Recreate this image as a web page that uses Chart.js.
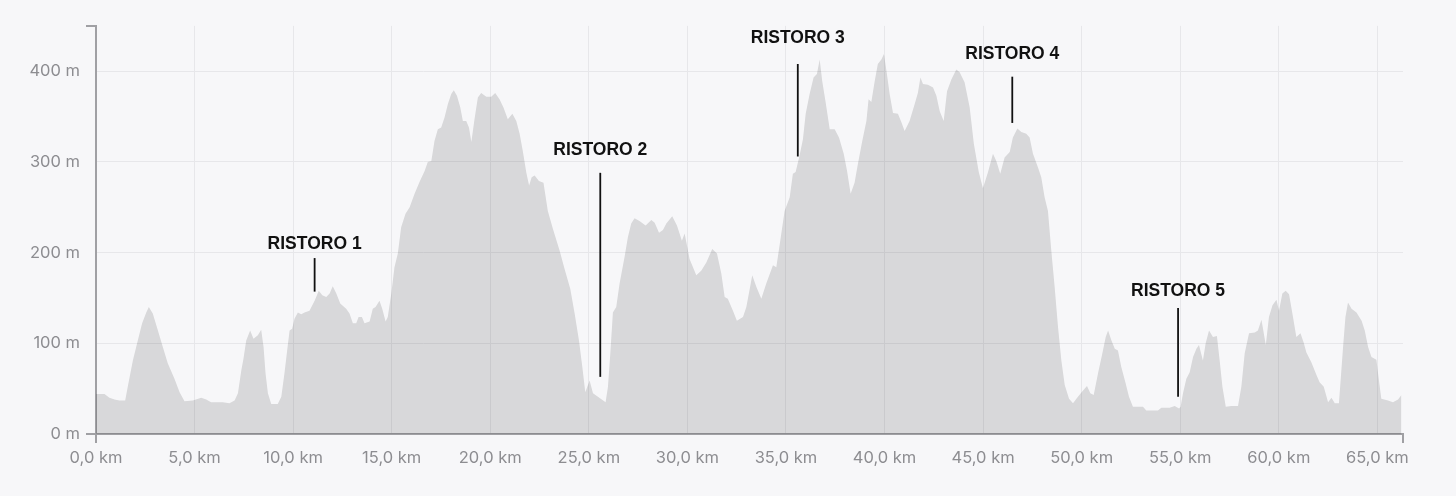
<!DOCTYPE html>
<html>
<head>
<meta charset="utf-8">
<script src="https://cdn.jsdelivr.net/npm/chart.js@4.4.1/dist/chart.umd.min.js"></script>
<style>
  html, body { margin: 0; padding: 0; background: #f7f7f9; }
  #wrap { width: 1456px; height: 496px; position: relative; }
  canvas { display: block; }
</style>
</head>
<body>
<div id="wrap"><canvas id="c" width="1456" height="496"></canvas></div>
<script>
// ---- Data (km, metres) ----
const distanceKm = [
  0.0, 0.43, 0.68, 0.94, 1.19, 1.48, 1.61, 1.87, 2.12, 2.34, 2.55, 2.68, 2.88, 3.14, 3.39, 3.64, 3.98, 4.24, 4.49, 4.91,
  5.34, 5.59, 5.84, 6.43, 6.77, 7.03, 7.2, 7.37, 7.48, 7.62, 7.82, 7.99, 8.21, 8.38, 8.5, 8.6, 8.72, 8.89, 9.22, 9.4,
  9.56, 9.73, 9.82, 9.95, 10.07, 10.24, 10.41, 10.58, 10.83, 11.09, 11.3, 11.48, 11.68, 11.85, 12.01, 12.19, 12.39, 12.69, 12.86, 13.03,
  13.2, 13.32, 13.49, 13.62, 13.88, 14.04, 14.18, 14.38, 14.52, 14.69, 14.8, 14.98, 15.14, 15.31, 15.48, 15.7, 15.91, 16.16, 16.41, 16.67,
  16.83, 17.01, 17.17, 17.34, 17.51, 17.68, 17.85, 18.02, 18.15, 18.31, 18.48, 18.61, 18.78, 18.92, 19.04, 19.2, 19.37, 19.54, 19.8, 20.05,
  20.25, 20.47, 20.67, 20.89, 21.12, 21.32, 21.49, 21.65, 21.83, 21.97, 22.1, 22.25, 22.47, 22.7, 22.92, 23.18, 23.52, 23.77, 24.06, 24.28,
  24.5, 24.67, 24.82, 25.04, 25.21, 25.46, 25.85, 25.97, 26.09, 26.22, 26.39, 26.56, 26.81, 26.98, 27.15, 27.32, 27.57, 27.88, 28.17, 28.34,
  28.56, 28.76, 28.93, 29.23, 29.47, 29.72, 29.86, 30.11, 30.45, 30.7, 30.96, 31.26, 31.5, 31.72, 31.89, 32.05, 32.31, 32.51, 32.82, 32.99,
  33.29, 33.5, 33.75, 34.0, 34.34, 34.51, 34.71, 34.93, 35.19, 35.35, 35.49, 35.69, 35.86, 36.0, 36.2, 36.4, 36.57, 36.71, 36.84, 37.01,
  37.22, 37.47, 37.69, 37.93, 38.1, 38.28, 38.48, 38.65, 38.87, 39.08, 39.19, 39.33, 39.5, 39.66, 39.84, 39.97, 40.12, 40.26, 40.43, 40.68,
  40.85, 41.02, 41.27, 41.53, 41.69, 41.82, 41.95, 42.2, 42.46, 42.63, 42.8, 43.0, 43.17, 43.39, 43.64, 43.81, 44.06, 44.32, 44.53, 44.78,
  44.99, 45.25, 45.5, 45.67, 45.87, 46.09, 46.35, 46.51, 46.74, 46.94, 47.19, 47.36, 47.53, 47.78, 47.95, 48.12, 48.29, 48.46, 48.63, 48.8,
  48.97, 49.14, 49.36, 49.56, 49.81, 50.07, 50.27, 50.44, 50.61, 50.83, 51.05, 51.22, 51.34, 51.51, 51.68, 51.84, 52.01, 52.23, 52.4, 52.6,
  53.11, 53.28, 53.87, 54.04, 54.46, 54.72, 54.94, 55.02, 55.14, 55.31, 55.48, 55.65, 55.82, 55.95, 56.15, 56.29, 56.46, 56.66, 56.86, 57.0,
  57.14, 57.31, 57.6, 57.93, 58.1, 58.27, 58.49, 58.78, 58.94, 59.12, 59.34, 59.5, 59.68, 59.88, 60.01, 60.18, 60.35, 60.52, 60.72, 60.89,
  61.1, 61.26, 61.4, 61.65, 61.91, 62.07, 62.28, 62.5, 62.67, 62.84, 63.05, 63.26, 63.38, 63.51, 63.69, 63.94, 64.2, 64.36, 64.53, 64.7,
  64.95, 65.08, 65.2, 65.54, 65.79, 66.05, 66.22
];
const elevationM = [
  44, 44, 40, 38, 37, 37, 52, 81, 103, 122, 134, 140, 133, 114, 96, 78, 61, 46, 36, 37,
  40, 38, 35, 35, 34, 37, 45, 70, 83, 103, 114, 105, 109, 115, 96, 67, 45, 33, 33, 41,
  67, 98, 114, 116, 127, 134, 132, 134, 136, 147, 158, 153, 151, 155, 163, 155, 144, 138, 133, 122,
  122, 129, 129, 122, 124, 138, 140, 147, 138, 124, 129, 155, 184, 199, 228, 243, 250, 265, 278, 290,
  300, 301, 323, 336, 338, 349, 364, 375, 379, 373, 360, 345, 345, 338, 322, 347, 371, 376, 372, 372,
  376, 369, 360, 347, 353, 345, 331, 312, 288, 274, 283, 285, 279, 277, 246, 226, 202, 182, 160, 133,
  103, 74, 46, 59, 45, 41, 35, 52, 89, 134, 140, 166, 195, 217, 232, 238, 235, 230, 236, 233,
  222, 225, 232, 240, 230, 213, 221, 193, 175, 180, 189, 204, 199, 177, 151, 149, 136, 125, 129, 140,
  175, 162, 149, 166, 186, 184, 213, 246, 261, 287, 289, 307, 325, 353, 375, 393, 397, 413, 389, 366,
  336, 336, 327, 309, 290, 265, 277, 298, 323, 345, 369, 366, 389, 408, 413, 419, 397, 375, 354, 353,
  344, 334, 345, 364, 376, 393, 386, 385, 382, 373, 356, 345, 378, 391, 402, 399, 388, 360, 320, 289,
  271, 289, 309, 301, 287, 305, 311, 327, 337, 333, 331, 327, 309, 294, 283, 261, 246, 202, 162, 118,
  81, 54, 39, 34, 41, 48, 53, 45, 43, 67, 89, 107, 114, 103, 94, 92, 74, 56, 41, 30,
  30, 26, 26, 29, 29, 31, 28, 30, 45, 61, 68, 85, 94, 98, 81, 100, 114, 107, 108, 81,
  52, 30, 31, 31, 52, 89, 111, 112, 114, 126, 98, 129, 142, 148, 136, 155, 158, 154, 129, 107,
  111, 101, 90, 79, 65, 57, 52, 35, 40, 34, 34, 96, 129, 145, 138, 134, 125, 114, 96, 85,
  82, 59, 39, 37, 35, 38, 43
];

// ---- Axes ----
const xTickValues = [0, 5, 10, 15, 20, 25, 30, 35, 40, 45, 50, 55, 60, 65];
const yTickValues = [0, 100, 200, 300, 400];
const xMax = 66.3;
const yMax = 450;

// ---- Aid stations (ristori) ----
const ristoroNames = ['RISTORO 1', 'RISTORO 2', 'RISTORO 3', 'RISTORO 4', 'RISTORO 5'];
const ristoroKm = [11.09, 25.58, 35.6, 46.48, 54.89];
const ristoroLabelM = [204, 308, 431, 414, 152];
const ristoroLineTopM = [194, 288, 408, 394, 139];
const ristoroLineBottomM = [157, 63, 306, 343, 41];

const points = distanceKm.map((d, i) => ({ x: d, y: elevationM[i] }));

const BG = '#f7f7f9';
const AXIS = '#a0a0a4';
const GRID = '#e7e7ea';
const TICK_TXT = '#8d8d91';

const bgPlugin = {
  id: 'bg',
  beforeDraw(chart) {
    const { ctx, width, height } = chart;
    ctx.save();
    ctx.fillStyle = BG;
    ctx.fillRect(0, 0, width, height);
    ctx.restore();
  }
};

const overlayPlugin = {
  id: 'overlay',
  afterDraw(chart) {
    const { ctx } = chart;
    const xs = chart.scales.x, ys = chart.scales.y;
    const x0 = xs.getPixelForValue(0), x1 = xs.getPixelForValue(xMax);
    const y0 = ys.getPixelForValue(0), y1 = ys.getPixelForValue(yMax);
    ctx.save();
    ctx.strokeStyle = AXIS;
    ctx.lineWidth = 2;
    ctx.beginPath();
    ctx.moveTo(x0 - 10, y1); ctx.lineTo(x0 + 1, y1);
    ctx.moveTo(x0 - 10, y0); ctx.lineTo(x0, y0);
    ctx.moveTo(x0, y0); ctx.lineTo(x0, y0 + 9);
    ctx.moveTo(x1, y0 + 1); ctx.lineTo(x1, y0 + 9);
    ctx.stroke();

    ctx.fillStyle = '#111111';
    ctx.strokeStyle = '#111111';
    ctx.lineWidth = 1.8;
    ctx.font = 'bold 17.5px "Liberation Sans", Arial, Helvetica, sans-serif';
    ctx.textAlign = 'center';
    ctx.textBaseline = 'alphabetic';
    ristoroNames.forEach((name, i) => {
      const px = xs.getPixelForValue(ristoroKm[i]);
      ctx.fillText(name, px, ys.getPixelForValue(ristoroLabelM[i]));
      ctx.beginPath();
      ctx.moveTo(px, ys.getPixelForValue(ristoroLineTopM[i]));
      ctx.lineTo(px, ys.getPixelForValue(ristoroLineBottomM[i]));
      ctx.stroke();
    });
    ctx.restore();
  }
};

const fmtKm = v => v.toFixed(1).replace('.', ',') + ' km';

new Chart(document.getElementById('c'), {
  type: 'line',
  data: {
    datasets: [{
      data: points,
      fill: 'origin',
      backgroundColor: 'rgba(0,0,6,0.125)',
      borderWidth: 0,
      borderColor: 'rgba(0,0,0,0)',
      pointRadius: 0,
      tension: 0
    }]
  },
  options: {
    responsive: false,
    animation: false,
    events: [],
    layout: { padding: { top: 25, right: 53, left: 0, bottom: 0 } },
    plugins: { legend: { display: false }, tooltip: { enabled: false } },
    scales: {
      x: {
        type: 'linear',
        min: 0,
        max: xMax,
        afterBuildTicks: s => { s.ticks = xTickValues.map(v => ({ value: v })); },
        afterFit: s => { s.height = 62; },
        grid: { color: GRID, lineWidth: 1, drawTicks: false },
        border: { display: true, color: AXIS, width: 2 },
        ticks: {
          padding: 14,
          maxRotation: 0,
          autoSkip: false,
          color: TICK_TXT,
          font: { family: 'Inter, "Noto Sans", sans-serif', size: 16.5 },
          callback: v => fmtKm(v)
        }
      },
      y: {
        type: 'linear',
        min: 0,
        max: yMax,
        afterBuildTicks: s => { s.ticks = yTickValues.map(v => ({ value: v })); },
        afterFit: s => { s.width = 96; },
        grid: { color: GRID, lineWidth: 1, drawTicks: false },
        border: { display: true, color: AXIS, width: 2 },
        ticks: {
          padding: 16,
          color: TICK_TXT,
          font: { family: 'Inter, "Noto Sans", sans-serif', size: 16.5 },
          callback: v => v + ' m'
        }
      }
    }
  },
  plugins: [bgPlugin, overlayPlugin]
});
</script>
</body>
</html>
